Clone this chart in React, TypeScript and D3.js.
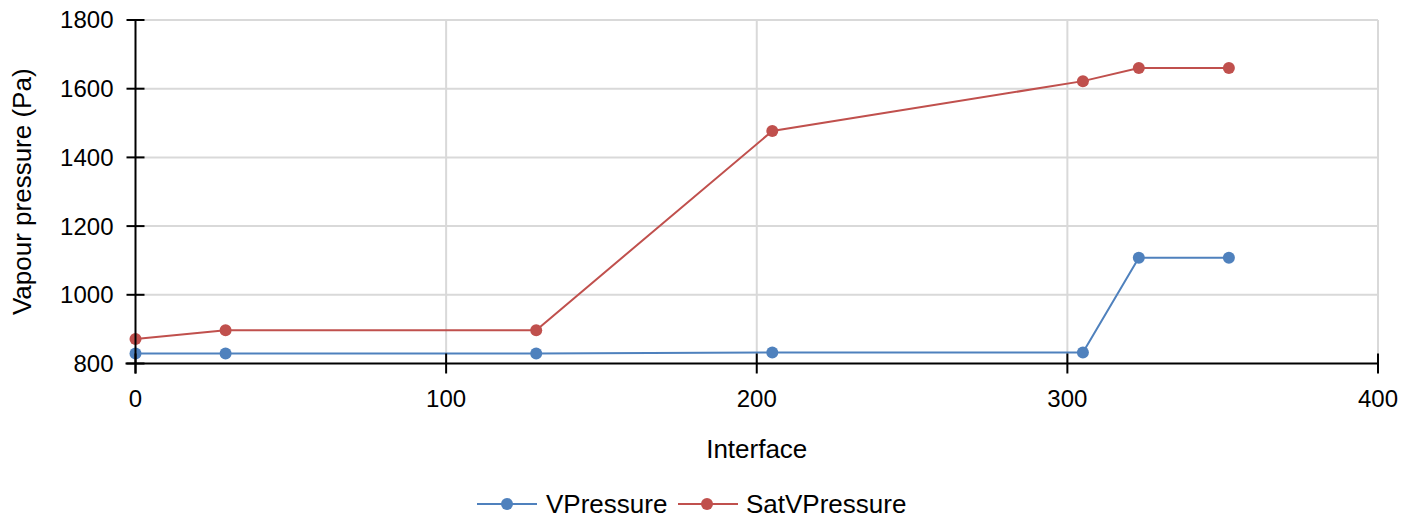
import React from "react";
import * as d3 from "d3";

const interfaces = [0, 29, 129, 205, 305, 323, 352];
const vPressure = [829, 829, 829, 832, 832, 1108, 1108];
const satVPressure = [871, 897, 897, 1477, 1622, 1660, 1660];
const xTicks = [0, 100, 200, 300, 400];
const yTicks = [800, 1000, 1200, 1400, 1600, 1800];

const W = 1420, H = 523;
const M = { left: 135.5, right: 1378, top: 20, bottom: 363.5 };
const font = "Liberation Sans, Arial, sans-serif";

const series = [
  { name: "VPressure", values: vPressure, color: "#4f81bd" },
  { name: "SatVPressure", values: satVPressure, color: "#c0504d" },
];

export default function App() {
  const x = d3.scaleLinear().domain([0, 400]).range([M.left, M.right]);
  const y = d3.scaleLinear().domain([800, 1800]).range([M.bottom, M.top]);
  const line = d3
    .line<[number, number]>()
    .x((d) => x(d[0]))
    .y((d) => y(d[1]));

  return (
    <svg width={W} height={H} style={{ position: "absolute", left: 0, top: 0 }}>
      <rect width={W} height={H} fill="#fff" />
      {yTicks.filter((t) => t !== 800).map((t) => (
        <line key={"gy" + t} x1={M.left} x2={M.right} y1={y(t)} y2={y(t)} stroke="#d9d9d9" strokeWidth={2} />
      ))}
      {xTicks.filter((t) => t !== 0).map((t) => (
        <line key={"gx" + t} x1={x(t)} x2={x(t)} y1={M.top} y2={M.bottom} stroke="#d9d9d9" strokeWidth={2} />
      ))}
      {series.map((s) => (
        <g key={s.name}>
          <path
            d={line(interfaces.map((v, i) => [v, s.values[i]] as [number, number])) || ""}
            fill="none"
            stroke={s.color}
            strokeWidth={2}
          />
          {interfaces.map((v, i) => (
            <circle key={i} cx={x(v)} cy={y(s.values[i])} r={6} fill={s.color} />
          ))}
        </g>
      ))}
      {/* axes */}
      <line x1={M.left} x2={M.left} y1={M.top} y2={M.bottom + 10} stroke="#000" strokeWidth={2} />
      <line x1={M.left - 10} x2={M.right} y1={M.bottom} y2={M.bottom} stroke="#000" strokeWidth={2} />
      {yTicks.map((t) => (
        <g key={"yt" + t}>
          <line x1={M.left - 9} x2={M.left + 9} y1={y(t)} y2={y(t)} stroke="#000" strokeWidth={2} />
          <text x={M.left - 22} y={y(t)} dy="0.35em" textAnchor="end" fontFamily={font} fontSize={24} fill="#000">
            {t}
          </text>
        </g>
      ))}
      {xTicks.map((t) => (
        <g key={"xt" + t}>
          <line x1={x(t)} x2={x(t)} y1={M.bottom - 10} y2={M.bottom + 10} stroke="#000" strokeWidth={2} />
          <text x={x(t)} y={407} textAnchor="middle" fontFamily={font} fontSize={24} fill="#000">
            {t}
          </text>
        </g>
      ))}
      <text
        transform={`translate(31, ${(M.top + M.bottom) / 2}) rotate(-90)`}
        textAnchor="middle"
        fontFamily={font}
        fontSize={26}
        fill="#000"
      >
        Vapour pressure (Pa)
      </text>
      <text x={(M.left + M.right) / 2} y={458} textAnchor="middle" fontFamily={font} fontSize={26} fill="#000">
        Interface
      </text>
      {/* legend */}
      <g>
        <line x1={477} x2={537} y1={504} y2={504} stroke={series[0].color} strokeWidth={2} />
        <circle cx={507} cy={504} r={6} fill={series[0].color} />
        <text x={546} y={504} dy="0.35em" fontFamily={font} fontSize={26} fill="#000">{series[0].name}</text>
        <line x1={678} x2={738} y1={504} y2={504} stroke={series[1].color} strokeWidth={2} />
        <circle cx={707} cy={504} r={6} fill={series[1].color} />
        <text x={746} y={504} dy="0.35em" fontFamily={font} fontSize={26} fill="#000">{series[1].name}</text>
      </g>
    </svg>
  );
}
